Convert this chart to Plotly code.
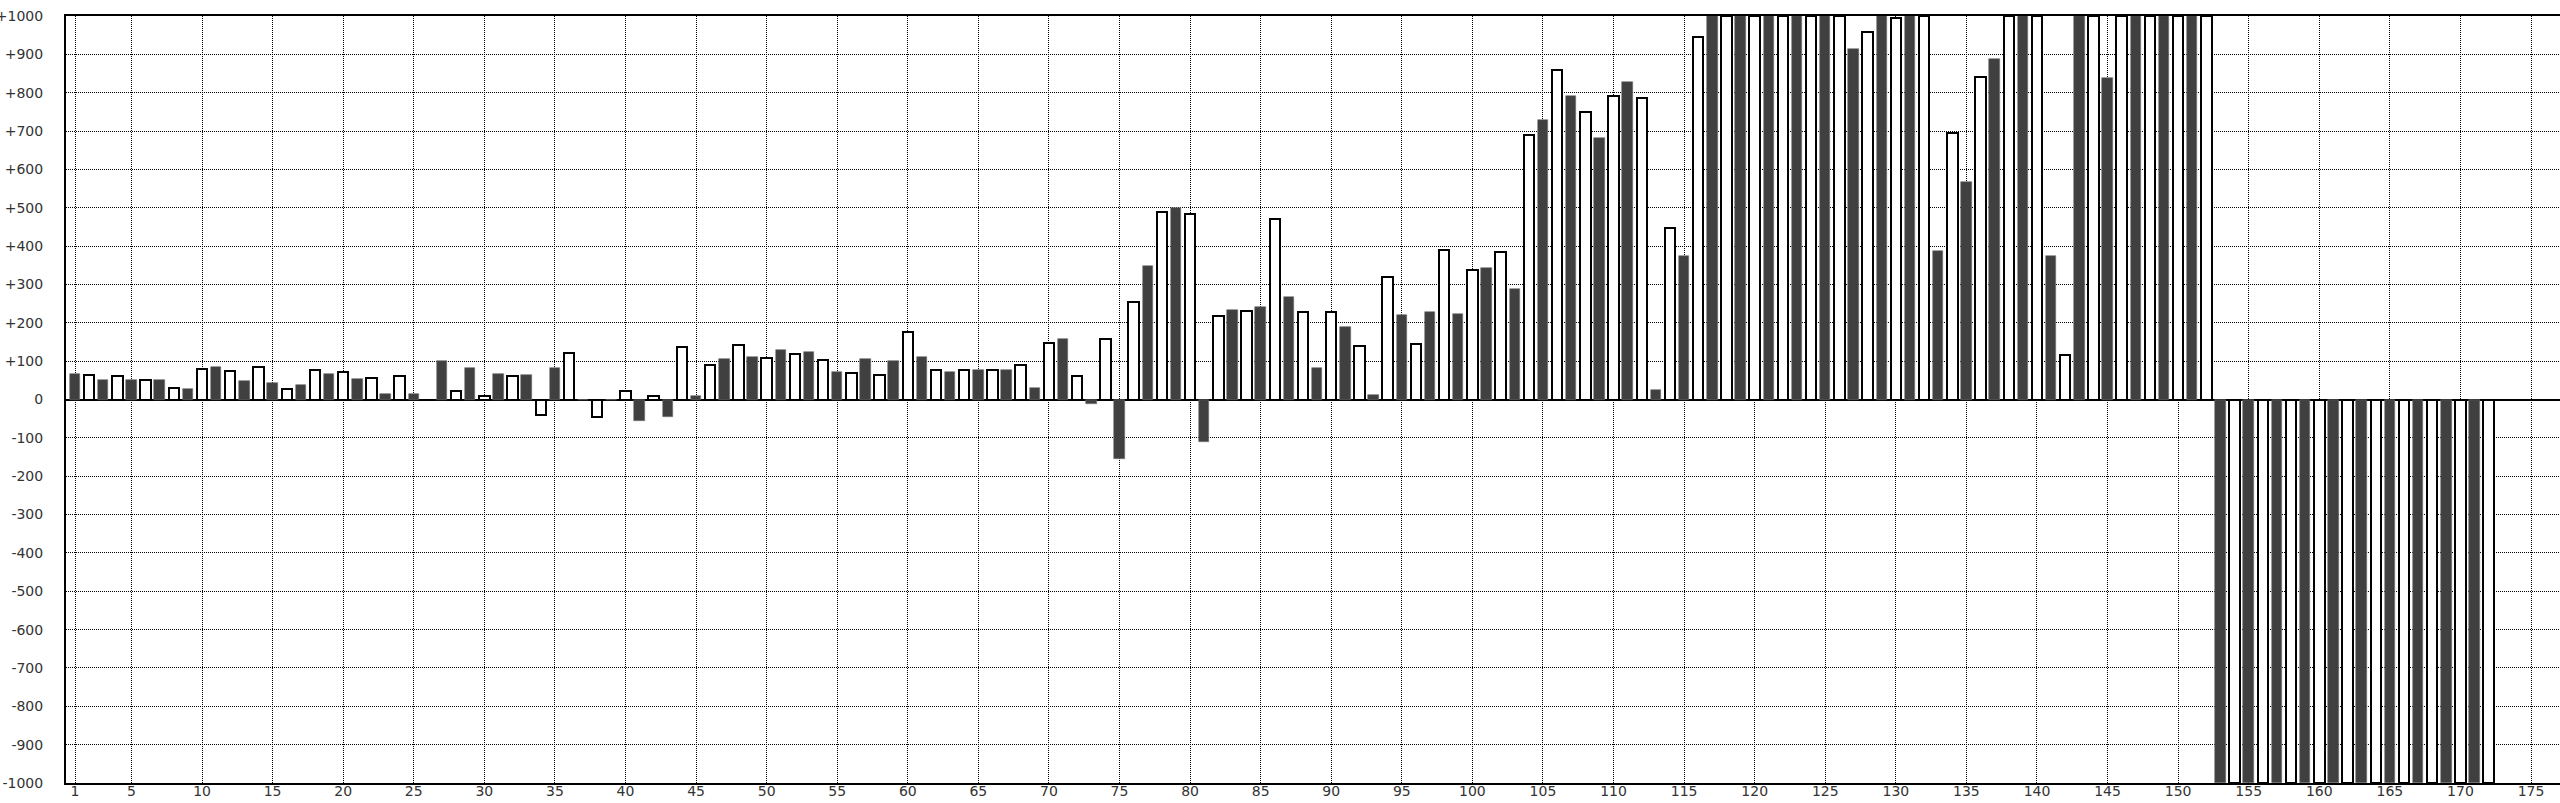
import plotly.graph_objects as go

# ---- data ----
categories = list(range(1, 173))

values = [
    66, 64, 52, 60, 52, 50, 52, 30, 27, 80,        # 1-10
    85, 75, 47, 84, 43, 28, 38, 76, 67, 72,        # 11-20
    54, 56, 15, 61, 15, 0, 100, 23, 82, 8,         # 21-30
    67, 61, 63, -40, 82, 120, 0, -46, 0, 23,       # 31-40
    -57, 10, -46, 138, 9, 90, 106, 143, 111, 109,  # 41-50
    129, 118, 124, 104, 73, 70, 106, 65, 101, 177, # 51-60
    111, 76, 72, 76, 77, 76, 77, 90, 30, 147,      # 61-70
    159, 61, -13, 158, -155, 255, 349, 488, 500, 483,  # 71-80
    -110, 218, 233, 231, 241, 470, 266, 227, 82, 227,  # 81-90
    188, 140, 13, 320, 220, 145, 228, 389, 222, 338,   # 91-100
    344, 385, 289, 689, 728, 860, 792, 750, 682, 791,  # 101-110
    829, 787, 24, 446, 373, 945, 1000, 1000, 1000, 1000,  # 111-120
    1000, 1000, 1000, 1000, 1000, 1000, 915, 958, 1000, 995,  # 121-130
    1000, 1000, 387, 696, 566, 841, 888, 1000, 1000, 1000,   # 131-140
    373, 115, 1000, 1000, 838, 1000, 1000, 1000, 1000, 1000, # 141-150
    1000, 1000, -1000, -1000, -1000, -1000, -1000, -1000, -1000, -1000,  # 151-160
    -1000, -1000, -1000, -1000, -1000, -1000, -1000, -1000, -1000, -1000,  # 161-170
    -1000, -1000,                                   # 171-172
]

x_tick_vals = [1] + list(range(5, 180, 5))
y_tick_vals = list(range(-1000, 1001, 100))
y_tick_text = [("+" + str(v)) if v > 0 else str(v) for v in y_tick_vals]

# split into the two alternating series
odd_x = [c for c in categories if c % 2 == 1]
odd_y = [v for c, v in zip(categories, values) if c % 2 == 1]
even_x = [c for c in categories if c % 2 == 0]
even_y = [v for c, v in zip(categories, values) if c % 2 == 0]

fig = go.Figure()
fig.add_trace(go.Bar(
    x=odd_x, y=odd_y, width=0.74,
    marker=dict(color="#404040", line=dict(color="#707070", width=0.6)),
    showlegend=False,
))
fig.add_trace(go.Bar(
    x=even_x, y=even_y, width=0.74,
    marker=dict(color="#ffffff", line=dict(color="#000000", width=2)),
    showlegend=False,
))

W, H = 2560, 803
ml, mr, mt, mb = 66, 0, 16, 20
plot_w = W - ml - mr
px_per_unit = 14.115
x0 = 1 - 9 / px_per_unit
x1 = x0 + plot_w / px_per_unit

fig.update_layout(
    width=W, height=H,
    margin=dict(l=ml, r=mr, t=mt, b=mb, autoexpand=False),
    paper_bgcolor="white", plot_bgcolor="white",
    barmode="overlay", bargap=0,
    font=dict(family="DejaVu Sans", size=14, color="#333333"),
)
fig.update_xaxes(
    range=[x0, x1], tickmode="array", tickvals=x_tick_vals,
    showgrid=True, gridcolor="#000000", gridwidth=1, griddash="1px,1px",
    showline=True, linecolor="#000000", linewidth=2, mirror=True,
    ticks="", ticklabelstandoff=-6, zeroline=False,
    tickfont=dict(family="DejaVu Sans", size=14, color="#333333"),
)
fig.update_yaxes(
    range=[-1000, 1000], tickmode="array", tickvals=y_tick_vals, ticktext=y_tick_text,
    showgrid=True, gridcolor="#000000", gridwidth=1, griddash="1px,1px",
    showline=True, linecolor="#000000", linewidth=2, mirror=False,
    zeroline=True, zerolinecolor="#000000", zerolinewidth=2,
    ticks="", ticklabelstandoff=18,
    tickfont=dict(family="DejaVu Sans", size=14, color="#333333"),
)

fig.write_html(
    "out.html",
    config={"displayModeBar": False},
    post_script="document.body.style.margin='0px';document.body.style.overflow='hidden';",
)
